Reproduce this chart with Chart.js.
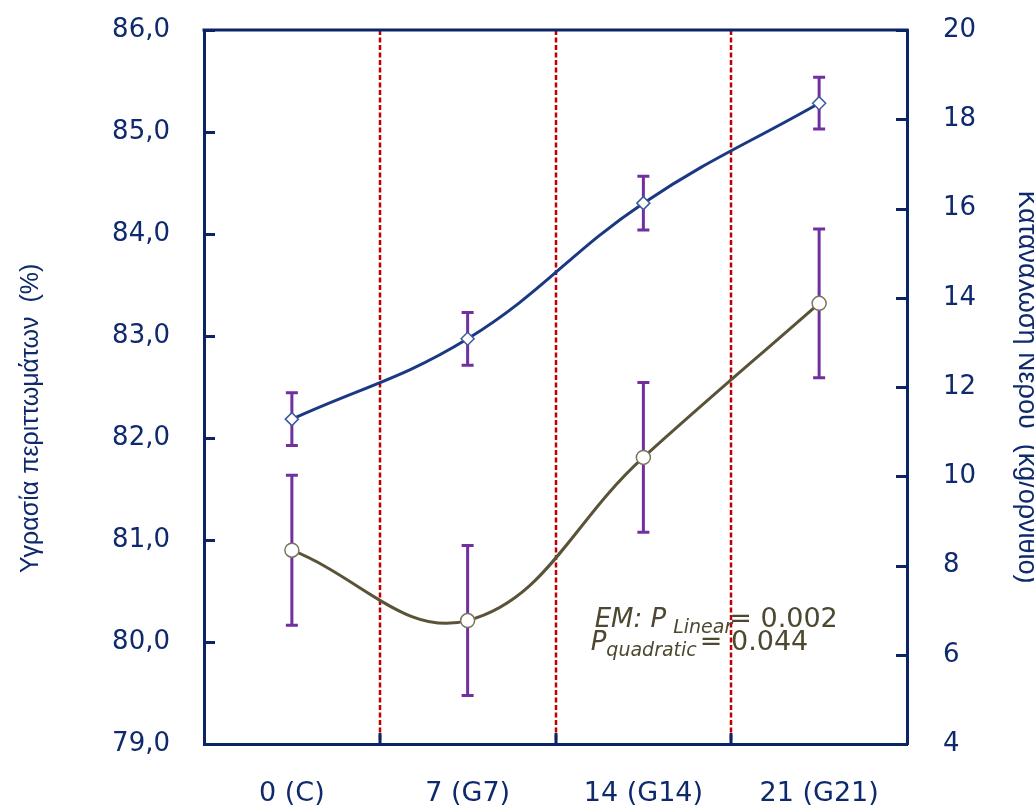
<!DOCTYPE html>
<html><head><meta charset="utf-8">
<script src="https://cdn.jsdelivr.net/npm/chart.js@4"></script>
<style>html,body{margin:0;padding:0;background:#fff;overflow:hidden}</style>
</head><body>
<canvas id="c" width="1034" height="805" style="display:block;width:1034px;height:805px"></canvas>
<script>
// ---------- DATA ----------
const categories = ['0 (C)', '7 (G7)', '14 (G14)', '21 (G21)'];
const moisture = [80.90, 80.21, 81.81, 83.32];        // left axis (%)
const moistureErr = [0.735, 0.735, 0.735, 0.73];
const water = [11.28, 13.08, 16.12, 18.36];           // right axis (kg/bird)
const waterErr = [0.59, 0.59, 0.60, 0.58];
const leftTicks = [79, 80, 81, 82, 83, 84, 85, 86];
const rightTicks = [4, 6, 8, 10, 12, 14, 16, 18, 20];
const leftTitle = 'Υγρασία περιττωμάτων  (%)';
const rightTitle = 'Κατανάλωση Νερού  (kg/ορνίθιο)';
const noteLine1 = ['EM: P', 'Linear', '= 0.002'];
const noteLine2 = ['P', 'quadratic', '= 0.044'];

// ---------- STYLE ----------
const NAVY = '#0B2466';
const TXT = '#0F2A6C';
const BLUE = '#1A3884';
const OLIVE = '#5A5337';
const NOTE = '#4E4830';
const PURPLE = '#7030A0';
const RED = '#C00000';

const titleFamily = '"Liberation Sans", Arial, sans-serif';
const leftTitleSize = 25;
const rightTitleSize = 27;
const TRAIL = '         ';

const framePlugin = {
  id: 'frame',
  beforeDatasetsDraw(chart){
    const {ctx, chartArea: a, scales} = chart;
    const xs = scales.x;
    ctx.save();
    ctx.strokeStyle = RED; ctx.lineWidth = 2.5; ctx.setLineDash([5, 2.5]);
    for (let i = 0; i < categories.length - 1; i++){
      const px = Math.round((xs.getPixelForValue(i) + xs.getPixelForValue(i+1)) / 2);
      ctx.beginPath(); ctx.moveTo(px, a.top); ctx.lineTo(px, a.bottom); ctx.stroke();
    }
    ctx.setLineDash([]);
    chart.data.datasets.forEach((ds, di) => {
      const meta = chart.getDatasetMeta(di);
      const ys = scales[ds.yAxisID];
      ctx.strokeStyle = PURPLE; ctx.lineWidth = 3;
      meta.data.forEach((pt, i) => {
        const v = ds.data[i], e = ds.errors[i];
        const y1 = ys.getPixelForValue(v + e), y2 = ys.getPixelForValue(v - e);
        ctx.beginPath();
        ctx.moveTo(pt.x, y1); ctx.lineTo(pt.x, y2);
        ctx.moveTo(pt.x - 6, y1); ctx.lineTo(pt.x + 6, y1);
        ctx.moveTo(pt.x - 6, y2); ctx.lineTo(pt.x + 6, y2);
        ctx.stroke();
      });
    });
    ctx.restore();
  },
  afterDraw(chart){
    const {ctx, chartArea: a, scales} = chart;
    const xs = scales.x, yl = scales.y, yr = scales.y2;
    ctx.save();
    ctx.strokeStyle = NAVY; ctx.lineWidth = 3;
    ctx.beginPath(); ctx.moveTo(a.left - 1.5, a.top); ctx.lineTo(a.right + 1.5, a.top); ctx.stroke();
    const TL = 11;
    ctx.beginPath();
    leftTicks.forEach(v => { const y = Math.round(yl.getPixelForValue(v)) + 0.5; ctx.moveTo(a.left, y); ctx.lineTo(a.left + TL, y); });
    rightTicks.forEach(v => { const y = Math.round(yr.getPixelForValue(v)) + 0.5; ctx.moveTo(a.right - TL, y); ctx.lineTo(a.right, y); });
    for (let i = 0; i < categories.length - 1; i++){
      const px = Math.round((xs.getPixelForValue(i) + xs.getPixelForValue(i+1)) / 2);
      ctx.moveTo(px, a.bottom - TL); ctx.lineTo(px, a.bottom);
    }
    ctx.stroke();
    // annotation
    const step = xs.getPixelForValue(1) - xs.getPixelForValue(0);
    const ax = xs.getPixelForValue(0) + 1.7 * step;
    const b1 = yl.getPixelForValue(80.145), b2 = yl.getPixelForValue(79.92);
    ctx.fillStyle = NOTE; ctx.textBaseline = 'alphabetic'; ctx.textAlign = 'left';
    const big = 'italic 26px "DejaVu Sans"', sub = 'italic 19px "DejaVu Sans"', reg = '27px "DejaVu Sans"';
    let x = ax + 4;
    ctx.font = big; ctx.fillText(noteLine1[0], x, b1); x += ctx.measureText(noteLine1[0]).width + 7;
    ctx.font = sub; ctx.fillText(noteLine1[1], x, b1 + 6); x += ctx.measureText(noteLine1[1]).width - 3;
    ctx.font = reg; ctx.fillText(noteLine1[2], x, b1);
    x = ax;
    ctx.font = big; ctx.fillText(noteLine2[0], x, b2); x += ctx.measureText(noteLine2[0]).width;
    ctx.font = sub; ctx.fillText(noteLine2[1], x, b2 + 6); x += ctx.measureText(noteLine2[1]).width + 3;
    ctx.font = reg; ctx.fillText(noteLine2[2], x, b2);
    ctx.restore();
  }
};

const tickFont = {family: '"DejaVu Sans", Verdana, sans-serif', size: 26};

new Chart(document.getElementById('c'), {
  type: 'line',
  data: {
    labels: categories,
    datasets: [
      {label: 'moisture', data: moisture, errors: moistureErr, yAxisID: 'y',
       borderColor: OLIVE, borderWidth: 3, tension: 0.4, fill: false,
       pointStyle: 'circle', pointRadius: 7, pointBackgroundColor: '#ffffff',
       pointBorderColor: '#7A7560', pointBorderWidth: 1.5},
      {label: 'water', data: water, errors: waterErr, yAxisID: 'y2',
       borderColor: BLUE, borderWidth: 3, tension: 0.4, fill: false,
       pointStyle: 'rectRot', pointRadius: 6.5, pointBackgroundColor: '#ffffff',
       pointBorderColor: '#3D5A9E', pointBorderWidth: 1.5}
    ]
  },
  options: {
    responsive: false, animation: false, devicePixelRatio: 1,
    layout: {padding: {top: 30, left: 0, right: 0, bottom: 0}},
    plugins: {legend: {display: false}, tooltip: {enabled: false}},
    scales: {
      x: {
        offset: true,
        grid: {display: false, drawTicks: false},
        border: {color: NAVY, width: 3},
        ticks: {color: TXT, font: {family: tickFont.family, size: 27}, padding: 34, maxRotation: 0, autoSkip: false},
        afterFit(s){ s.height = 61; s.paddingLeft = 0; s.paddingRight = 0; }
      },
      y: {
        position: 'left', min: 79, max: 86,
        afterBuildTicks(s){ s.ticks = leftTicks.map(v => ({value: v})); },
        grid: {display: false, drawTicks: false},
        border: {color: NAVY, width: 3},
        ticks: {color: TXT, font: tickFont, padding: 34, callback: v => Number(v).toFixed(1).replace('.', ',')},
        title: {display: true, text: leftTitle + TRAIL, color: TXT,
                font: {family: titleFamily, size: leftTitleSize},
                padding: {top: 31 - leftTitleSize * 0.6, bottom: 0}},
        afterFit(s){ s.width = 204; s.paddingTop = 0; s.paddingBottom = 0; }
      },
      y2: {
        position: 'right', min: 4, max: 20,
        afterBuildTicks(s){ s.ticks = rightTicks.map(v => ({value: v})); },
        grid: {display: false, drawTicks: false},
        border: {color: NAVY, width: 3},
        ticks: {color: TXT, font: tickFont, padding: 36, callback: v => String(v)},
        title: {display: true, text: rightTitle, color: TXT,
                font: {family: titleFamily, size: rightTitleSize},
                padding: {top: 8 - rightTitleSize * 0.6, bottom: 0}},
        afterFit(s){ s.width = 127; s.paddingTop = 0; s.paddingBottom = 0; }
      }
    }
  },
  plugins: [framePlugin]
});
</script>
</body></html>
